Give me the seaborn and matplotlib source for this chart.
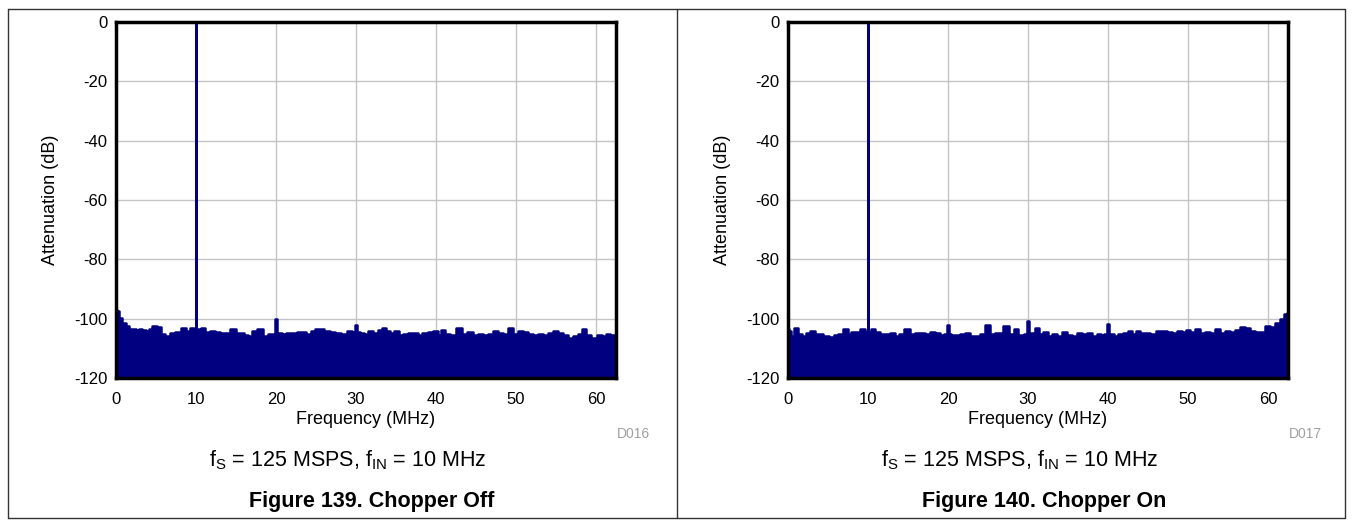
import matplotlib
matplotlib.use("Agg")
import matplotlib.pyplot as plt
import seaborn as sns
from matplotlib.lines import Line2D

# FFT spectrum, chopper off (MHz, dB)
freq_off = [0, 0.2, 0.6, 1.0, 1.4, 1.8, 2.25, 2.7, 3.1, 3.5, 3.9, 4.3, 4.75, 5.4, 5.8,
            6.4, 7.0, 7.7, 8.5, 9.1, 9.5, 9.9, 10.0, 10.1, 10.4, 10.9, 11.4, 12.0, 12.7,
            13.3, 13.9, 14.7, 15.2, 15.8, 16.2, 16.8, 17.25, 18.1, 18.7, 19.3, 19.8, 20.0,
            20.2, 20.4, 21.0, 21.6, 22.25, 22.9, 23.5, 24.1, 24.75, 25.1, 25.6, 26.4, 27.0,
            27.7, 28.5, 29.3, 29.8, 30.0, 30.2, 30.8, 31.2, 31.8, 32.5, 32.9, 33.5, 34.0,
            34.5, 35.1, 35.6, 36.2, 36.8, 37.5, 37.9, 38.7, 39.3, 40.0, 40.4, 40.9, 41.4,
            42.0, 42.9, 43.5, 44.3, 45.0, 45.6, 46.2, 46.8, 47.5, 48.1, 48.7, 49.25, 50.0,
            50.6, 51.2, 51.8, 52.5, 53.1, 53.7, 54.3, 55.0, 55.6, 56.2, 56.8, 57.5, 58.0,
            58.5, 59.1, 59.75, 60.4, 61.0, 61.6, 62.0, 62.5]
db_off = [-97.0, -97.4, -99.7, -101.6, -102.5, -103.6, -103.4, -103.8, -103.6, -103.8,
          -104.2, -103.4, -102.5, -102.7, -105.3, -105.8, -104.7, -104.5, -103.0, -104.2,
          -103.0, -104.5, -0.6, -104.5, -103.6, -103.0, -104.5, -104.2, -104.5, -104.9,
          -104.7, -103.4, -104.7, -104.9, -105.6, -105.8, -104.2, -103.6, -105.8, -105.3,
          -105.0, -100.2, -105.0, -104.9, -105.3, -104.9, -104.9, -104.5, -104.5, -105.3,
          -104.2, -103.4, -103.6, -104.2, -104.5, -104.9, -105.3, -104.2, -104.5, -102.2,
          -104.5, -104.7, -105.3, -104.2, -104.7, -103.8, -103.0, -104.2, -104.7, -104.2,
          -105.6, -105.3, -104.7, -104.9, -105.6, -104.7, -104.5, -104.2, -105.6, -103.8,
          -105.3, -105.6, -103.0, -105.3, -104.5, -105.6, -105.3, -105.6, -105.3, -104.2,
          -104.9, -105.3, -103.0, -105.3, -104.2, -104.5, -105.3, -105.6, -105.3, -105.6,
          -104.9, -104.2, -104.9, -105.6, -106.4, -105.8, -105.3, -103.6, -105.6, -106.4,
          -105.6, -105.8, -105.3, -105.6, -105.5]

# FFT spectrum, chopper on (MHz, dB)
freq_on = [0, 0.2, 0.6, 1.0, 1.5, 2.0, 2.4, 3.1, 3.7, 4.1, 4.75, 5.4, 6.0, 6.6, 7.2, 7.7,
           8.1, 8.7, 9.3, 9.9, 10.0, 10.1, 10.6, 11.2, 11.8, 12.5, 13.1, 13.7, 14.1, 14.9,
           15.6, 16.2, 16.8, 17.5, 18.1, 18.7, 19.3, 19.8, 20.0, 20.2, 20.6, 21.2, 21.8,
           22.5, 23.1, 23.7, 24.3, 25.0, 25.6, 26.2, 26.6, 27.25, 27.9, 28.5, 29.1, 29.8,
           30.0, 30.2, 30.6, 31.2, 31.6, 32.2, 32.7, 33.3, 33.9, 34.5, 35.2, 35.8, 36.4,
           37.0, 37.7, 38.3, 38.9, 39.3, 39.8, 40.0, 40.2, 40.4, 41.0, 41.6, 42.25, 42.75,
           43.3, 43.7, 44.3, 45.0, 45.6, 46.4, 47.0, 47.7, 48.3, 48.9, 49.5, 50.0, 50.6,
           51.2, 51.8, 52.5, 53.1, 53.7, 54.3, 55.0, 55.6, 56.2, 56.8, 57.5, 58.1, 58.7,
           59.3, 60.0, 60.6, 61.2, 61.75, 62.2, 62.5]
db_on = [-103.5, -104.2, -105.8, -103.0, -105.3, -105.8, -104.7, -104.2, -105.3, -105.3,
         -105.8, -106.1, -105.6, -105.3, -103.6, -105.3, -104.5, -104.5, -103.6, -104.5,
         -0.6, -104.5, -103.6, -104.5, -105.3, -105.3, -104.9, -105.8, -105.3, -103.4,
         -105.3, -104.7, -104.9, -105.3, -104.5, -104.7, -105.6, -105.0, -102.0, -105.0,
         -105.6, -105.6, -105.3, -104.9, -105.8, -105.8, -105.3, -102.2, -105.3, -104.9,
         -104.7, -102.5, -105.3, -103.4, -105.6, -105.0, -100.8, -105.0, -104.9, -103.0,
         -105.3, -104.5, -105.8, -105.3, -105.8, -104.5, -105.6, -105.8, -104.7, -105.3,
         -104.9, -105.8, -105.3, -105.6, -105.3, -101.9, -105.3, -105.3, -105.8, -105.3,
         -104.9, -104.2, -105.3, -104.2, -104.7, -104.9, -105.3, -104.2, -104.2, -104.5,
         -104.7, -104.2, -104.5, -103.8, -104.5, -103.6, -104.9, -104.5, -104.7, -103.4,
         -104.7, -104.2, -104.5, -103.8, -102.7, -103.0, -104.2, -104.5, -104.5, -102.5,
         -102.7, -101.3, -100.2, -98.5, -98.0]

x_ticks = [0, 10, 20, 30, 40, 50, 60]
y_ticks = [0, -20, -40, -60, -80, -100, -120]
subtitle = r"f$\mathregular{_S}$ = 125 MSPS, f$\mathregular{_{IN}}$ = 10 MHz"
captions = ["Figure 139. Chopper Off", "Figure 140. Chopper On"]
codes = ["D016", "D017"]

sns.set_style("white")
plt.rcParams["font.family"] = ["Liberation Sans", "DejaVu Sans"]
plt.rcParams["axes.unicode_minus"] = False
plt.rcParams["text.color"] = "black"
plt.rcParams["axes.labelcolor"] = "black"

W, H = 1353, 527
fig = plt.figure(figsize=(W / 100, H / 100), dpi=100)

navy = "#000080"
panels = [(freq_off, db_off, 116), (freq_on, db_on, 788)]

for i, (f, d, x0) in enumerate(panels):
    ax = fig.add_axes([x0 / W, 1 - 378 / H, 500 / W, 356 / H])
    ax.set_axisbelow(True)
    ax.grid(True, color="#c4c4c4", lw=1)
    ax.fill_between(f, d, -120, step="mid", color=navy, lw=0, zorder=2)
    sns.lineplot(x=f, y=d, ax=ax, color=navy, lw=1.8, drawstyle="steps-mid",
                 estimator=None, zorder=3)
    ax.set_xlim(0, 62.5)
    ax.set_ylim(-120, 0)
    ax.set_xticks(x_ticks)
    ax.set_yticks(y_ticks)
    ax.tick_params(length=0, labelsize=12, colors="black")
    ax.tick_params(axis="y", pad=6)
    ax.tick_params(axis="x", pad=10)
    for s in ax.spines.values():
        s.set_color("black")
        s.set_linewidth(2.5)
        s.set_zorder(5)
    ax.set_xlabel("Frequency (MHz)", fontsize=13, labelpad=3)
    ax.set_ylabel("Attenuation (dB)", fontsize=13, labelpad=11)

    cx = (x0 - 116) / W
    fig.text(cx + 633 / W, 1 - 434 / H, codes[i], fontsize=10, color="#a0a0a0",
             ha="center", va="center")
    fig.text(cx + 348 / W, 1 - 460 / H, subtitle, fontsize=15.5,
             ha="center", va="center")
    fig.text(cx + 372 / W, 1 - 502 / H, captions[i], fontsize=15.5,
             fontweight="bold", ha="center", va="center")

# table frame around the two figures
frame = dict(color="#333333", lw=1.0, transform=fig.transFigure)
for xs, ys in [([8, 1345], [9, 9]), ([8, 1345], [518, 518]),
               ([8, 8], [9, 518]), ([1345, 1345], [9, 518]), ([677, 677], [9, 518])]:
    fig.add_artist(Line2D([x / W for x in xs], [1 - y / H for y in ys], **frame))

fig.savefig("out.png", dpi=100)
